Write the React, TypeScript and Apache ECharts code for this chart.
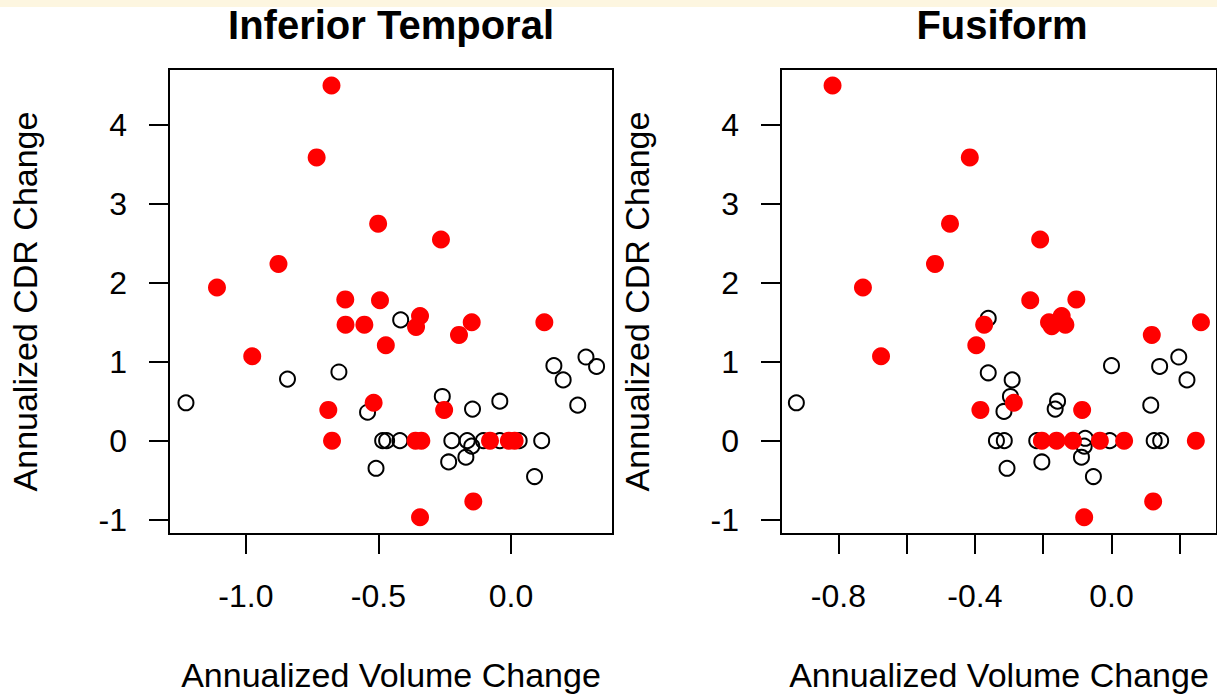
import React, { useEffect, useRef } from "react";
import * as echarts from "echarts";

// ---- Data ----
// Inferior Temporal: red filled points (x = annualized volume change, y = annualized CDR change)
const itRedX = [-0.677, -0.733, -0.501, -0.264, -0.877, -1.109, -0.625, -0.494, -0.624, -0.553, -0.343, -0.358, -0.148, -0.196, 0.126, -0.472, -0.976, -0.518, -0.689, -0.252, -0.675, -0.36, -0.338, -0.079, -0.008, 0.014, -0.343, -0.142];
const itRedY = [4.5, 3.59, 2.75, 2.55, 2.24, 1.94, 1.79, 1.78, 1.47, 1.47, 1.58, 1.44, 1.5, 1.34, 1.5, 1.21, 1.07, 0.48, 0.39, 0.39, 0, 0, 0, 0, 0, 0, -0.97, -0.77];
// Inferior Temporal: open black points
const itOpenX = [-1.226, -0.843, -0.649, -0.416, -0.541, -0.509, -0.484, -0.469, -0.419, -0.259, -0.223, -0.235, -0.165, -0.148, -0.17, -0.145, -0.042, -0.042, 0.031, 0.116, 0.089, 0.162, 0.197, 0.283, 0.323, 0.252, -0.104];
const itOpenY = [0.48, 0.78, 0.87, 1.53, 0.36, -0.35, 0, 0, 0, 0.56, 0, -0.27, 0, -0.07, -0.21, 0.4, 0.5, 0, 0, 0, -0.455, 0.95, 0.77, 1.06, 0.94, 0.45, 0];

// Fusiform: red filled points
const fuRedX = [-0.817, -0.415, -0.473, -0.209, -0.517, -0.728, -0.238, -0.103, -0.183, -0.175, -0.146, -0.135, -0.373, 0.118, 0.262, -0.396, -0.675, -0.286, -0.384, -0.086, -0.204, -0.161, -0.113, -0.034, 0.037, 0.247, -0.08, 0.122];
const fuRedY = [4.5, 3.59, 2.75, 2.55, 2.24, 1.94, 1.78, 1.79, 1.5, 1.45, 1.58, 1.47, 1.47, 1.34, 1.5, 1.21, 1.07, 0.48, 0.39, 0.39, 0, 0, 0, 0, 0, 0, -0.97, -0.77];
// Fusiform: open black points
const fuOpenX = [-0.923, -0.361, -0.361, -0.291, -0.296, -0.315, -0.337, -0.314, -0.306, -0.219, -0.204, -0.158, -0.165, -0.077, -0.08, -0.088, -0.053, 0.0, -0.005, 0.115, 0.125, 0.144, 0.141, 0.197, 0.221];
const fuOpenY = [0.48, 1.55, 0.86, 0.77, 0.56, 0.37, 0, 0, -0.35, 0, -0.27, 0.5, 0.4, 0.03, -0.07, -0.21, -0.455, 0.95, 0, 0.45, 0, 0, 0.94, 1.06, 0.77];

// Axis ticks and labels
const yTicks = [-1, 0, 1, 2, 3, 4];
const itXTicks = [-1.0, -0.5, 0.0];
const fuXTicks = [-0.8, -0.6, -0.4, -0.2, 0.0, 0.2];
const fuXLabels = [-0.8, -0.4, 0.0];

const titles = ["Inferior Temporal", "Fusiform"];
const xName = "Annualized Volume Change";
const yName = "Annualized CDR Change";

const FONT = "Liberation Sans, Arial, Helvetica, sans-serif";

const pairs = (xs: number[], ys: number[]) => xs.map((x, i) => [x, ys[i]]);

function xAxisFor(gridIndex: number, min: number, max: number, ticks: number[], labels: number[]) {
  return {
    type: "value",
    gridIndex,
    min,
    max,
    name: xName,
    nameLocation: "middle",
    nameGap: 124,
    nameTextStyle: { fontFamily: FONT, fontSize: 34, color: "#000" },
    axisLine: { show: false, onZero: false },
    splitLine: { show: false },
    axisTick: {
      show: true,
      inside: false,
      length: 20,
      customValues: ticks,
      lineStyle: { color: "#000", width: 2 },
    },
    axisLabel: {
      customValues: labels,
      margin: 46,
      fontFamily: FONT,
      fontSize: 32,
      color: "#000",
      formatter: (v: number) => v.toFixed(1),
    },
  };
}

function yAxisFor(gridIndex: number) {
  return {
    type: "value",
    gridIndex,
    min: -1.183,
    max: 4.71,
    name: yName,
    nameLocation: "middle",
    nameGap: 127,
    nameTextStyle: { fontFamily: FONT, fontSize: 34, color: "#000" },
    axisLine: { show: false, onZero: false },
    splitLine: { show: false },
    axisTick: {
      show: true,
      inside: false,
      length: 20,
      customValues: yTicks,
      lineStyle: { color: "#000", width: 2 },
    },
    axisLabel: {
      customValues: yTicks,
      margin: 42,
      fontFamily: FONT,
      fontSize: 32,
      color: "#000",
      formatter: (v: number) => String(v),
    },
  };
}

const openStyle = {
  color: "rgba(0,0,0,0)",
  borderColor: "#000",
  borderWidth: 2,
  opacity: 1,
};
const redStyle = { color: "#ff0000", opacity: 1 };

export default function App() {
  const ref = useRef<HTMLDivElement>(null);

  useEffect(() => {
    document.body.style.margin = "0";
    document.body.style.overflow = "hidden";
    if (!ref.current) return;
    const chart = echarts.init(ref.current, null, { renderer: "svg" });
    const titleStyle = { fontFamily: FONT, fontSize: 40, fontWeight: "bold", color: "#000" };
    const option: any = {
      animation: false,
      backgroundColor: "#ffffff",
      title: [
        { text: titles[0], left: 391, top: 5, textAlign: "center", padding: 0, textStyle: titleStyle },
        { text: titles[1], left: 1002, top: 5, textAlign: "center", padding: 0, textStyle: titleStyle },
      ],
      graphic: [
        {
          type: "rect",
          silent: true,
          shape: { x: 0, y: 0, width: 1217, height: 7 },
          style: { fill: "#fdf6e0" },
        },
      ],
      grid: [
        { left: 169, top: 69, width: 444, height: 467, show: true, borderColor: "#000", borderWidth: 2, backgroundColor: "transparent" },
        { left: 781, top: 69, width: 443, height: 467, show: true, borderColor: "#000", borderWidth: 2, backgroundColor: "transparent" },
      ],
      xAxis: [
        xAxisFor(0, -1.29, 0.385, itXTicks, itXTicks),
        xAxisFor(1, -0.968, 0.309, fuXTicks, fuXLabels),
      ],
      yAxis: [yAxisFor(0), yAxisFor(1)],
      series: [
        { type: "scatter", xAxisIndex: 0, yAxisIndex: 0, symbol: "circle", symbolSize: 15, itemStyle: openStyle, data: pairs(itOpenX, itOpenY), silent: true },
        { type: "scatter", xAxisIndex: 0, yAxisIndex: 0, symbol: "circle", symbolSize: 18, itemStyle: redStyle, data: pairs(itRedX, itRedY), silent: true },
        { type: "scatter", xAxisIndex: 1, yAxisIndex: 1, symbol: "circle", symbolSize: 15, itemStyle: openStyle, data: pairs(fuOpenX, fuOpenY), silent: true },
        { type: "scatter", xAxisIndex: 1, yAxisIndex: 1, symbol: "circle", symbolSize: 18, itemStyle: redStyle, data: pairs(fuRedX, fuRedY), silent: true },
      ],
    };
    chart.setOption(option);
    return () => chart.dispose();
  }, []);

  return <div ref={ref} style={{ width: 1217, height: 697 }} />;
}
